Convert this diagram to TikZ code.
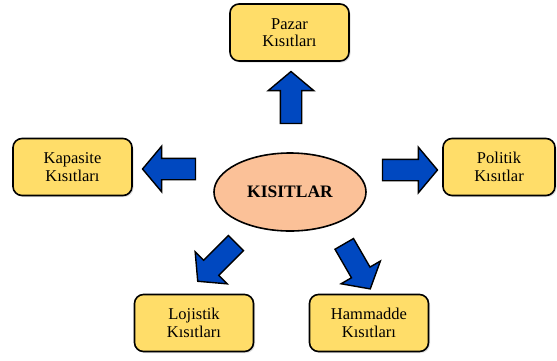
\documentclass[tikz,border=0pt]{standalone}
\usepackage{fontspec}
\setmainfont{Liberation Serif}
\usetikzlibrary{shapes.geometric,shapes.arrows,shadows}
\definecolor{kutusari}{RGB}{255,221,105}
\definecolor{somon}{RGB}{251,193,152}
\definecolor{okmavi}{RGB}{0,72,192}
\tikzset{
	kutu/.style={draw, line width=1.6pt, rounded corners=9pt, fill=kutusari, minimum width=119pt, minimum height=57pt, inner sep=0pt, align=center, font=\rmfamily\fontsize{16.5}{17.5}\selectfont, drop shadow={opacity=0.25, shadow xshift=1.5pt, shadow yshift=-1.5pt}},
	blokok/.style={single arrow, draw, line width=1.4pt, fill=okmavi, inner sep=10pt, single arrow head extend=12pt, single arrow tip angle=100, minimum height=52pt}
}

\begin{document}
\begin{tikzpicture}[x=1pt, y=-1pt]
			%%%%% START %%%%%
			\useasboundingbox (0, 0) rectangle (557, 360);
			
			\node[ellipse, draw, line width=1.6pt, fill=somon, minimum width=152pt, minimum height=78pt, font=\rmfamily\fontsize{17.5}{19}\selectfont\bfseries] (kisitlar) at (290, 192) {KISITLAR};
			
			\node[kutu] (pazar) at (289.5, 32.5) {Pazar\\Kısıtları};
			\node[kutu] (kapasite) at (72.5, 167) {Kapasite\\Kısıtları};
			\node[kutu, minimum width=112pt] (politik) at (499, 167) {Politik\\Kısıtlar};
			\node[kutu] (lojistik) at (194, 323) {Lojistik\\Kısıtları};
			\node[kutu] (hammadde) at (369, 323) {Hammadde\\Kısıtları};
			
			% bloklu oklar
			\node[blokok, rotate=90] (okpazar) at (291, 102) {};
			\node[blokok, rotate=180, minimum height=53pt] (okkapasite) at (173.5, 169) {};
			\node[blokok, minimum height=55pt] (okpolitik) at (405.5, 170) {};
			\node[blokok, rotate=225, minimum height=54pt] (oklojistik) at (220, 259) {};
			\node[blokok, rotate=-60] (okhammadde) at (355, 262.5) {};
			
			%%%%% END %%%%%
		\end{tikzpicture}
\end{document}
